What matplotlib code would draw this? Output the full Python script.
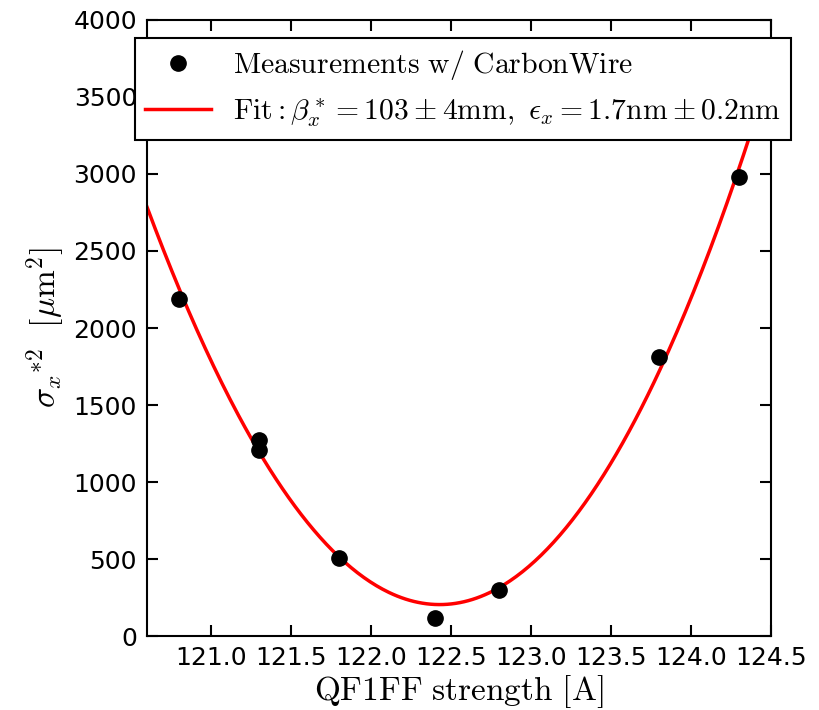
import numpy as np
import matplotlib
matplotlib.use('Agg')
import matplotlib.pyplot as plt

plt.rcParams['mathtext.fontset'] = 'cm'

# measured beam size squared vs quad current
corriente = [120.8, 121.3, 121.3, 121.8, 122.4, 122.8, 123.8, 124.3]
sigma2 = [2190, 1275, 1210, 510, 120, 300, 1815, 2980]

# fit parameters: sigma2 = a*(I-I0)^2 + b*(I-I0)^3 + s0
fit_a = 790.
fit_b = 10.
fit_I0 = 122.43
fit_s0 = 205.

x_fit = np.linspace(120.6, 124.5, 300)
u = x_fit - fit_I0
y_fit = fit_a*u**2 + fit_b*u**3 + fit_s0

fig = plt.figure(figsize=(8.2, 7.1), dpi=100)
ax = fig.add_axes([0.179, 0.104, 0.761, 0.868])

ax.plot(corriente, sigma2, 'o', color='black', markersize=11,
        label=r'$\mathrm{Measurements\ w/\ CarbonWire}$', zorder=3)
ax.plot(x_fit, y_fit, '-', color='red', linewidth=2.5,
        label=r'$\mathrm{Fit}:\beta_x^*=103\pm4\mathrm{mm},\ \epsilon_x=1.7\mathrm{nm}\pm0.2\mathrm{nm}$')

ax.set_xlim(120.6, 124.5)
ax.set_ylim(0, 4000)
ax.set_xticks(np.arange(121.0, 124.51, 0.5))
ax.set_yticks(np.arange(0, 4001, 500))
ax.xaxis.set_major_formatter(matplotlib.ticker.FormatStrFormatter('%.1f'))
ax.tick_params(direction='in', length=8, width=1.5, labelsize=18,
               top=True, right=True, pad=7)
for s in ax.spines.values():
    s.set_linewidth(1.5)

ax.set_xlabel(r'$\mathrm{QF1FF\ strength\ [A]}$', fontsize=24, labelpad=2)
ax.set_ylabel(r'$\sigma_x{}^{*2}\ \ [\mu\mathrm{m}^2]$', fontsize=24, labelpad=4)

leg = ax.legend(loc='upper center', bbox_to_anchor=(0.507, 0.995), fontsize=21.4,
                numpoints=1, fancybox=False, framealpha=1, edgecolor='black',
                handlelength=2.2, borderpad=0.35, labelspacing=0.48, handletextpad=0.75)
leg.get_frame().set_linewidth(1.5)

plt.savefig('out.png', dpi=100)
